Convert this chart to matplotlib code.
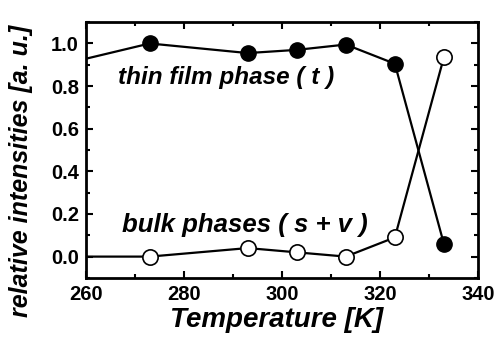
import matplotlib
matplotlib.use('Agg')
import matplotlib.pyplot as plt
from matplotlib.ticker import MultipleLocator

# data (first point lies left of the axis, clipped)
temp = [253, 273, 293, 303, 313, 323, 333]
thin_film = [0.89, 1.0, 0.955, 0.97, 0.995, 0.905, 0.06]
bulk = [0.0, 0.0, 0.04, 0.02, 0.0, 0.09, 0.935]

plt.rcParams['font.family'] = ['Liberation Sans', 'DejaVu Sans']
plt.rcParams['font.weight'] = 'bold'

fig = plt.figure(figsize=(4.94, 3.41), dpi=100)
ax = fig.add_axes([0.174, 0.185, 0.794, 0.75])

ax.plot(temp, thin_film, '-o', color='black', lw=1.6,
        markersize=11, markerfacecolor='black', markeredgecolor='black')
ax.plot(temp, bulk, '-o', color='black', lw=1.6,
        markersize=11, markerfacecolor='white', markeredgecolor='black',
        markeredgewidth=1.2)

ax.set_xlim(260, 340)
ax.set_ylim(-0.1, 1.1)
ax.xaxis.set_major_locator(MultipleLocator(20))
ax.xaxis.set_minor_locator(MultipleLocator(10))
ax.yaxis.set_major_locator(MultipleLocator(0.2))
ax.yaxis.set_minor_locator(MultipleLocator(0.1))
ax.yaxis.set_major_formatter(plt.FormatStrFormatter('%.1f'))

ax.tick_params(which='both', direction='in', top=True, right=True, width=1.5)
ax.tick_params(which='major', length=5, labelsize=14.5, pad=5)
ax.tick_params(which='minor', length=3)
for s in ax.spines.values():
    s.set_linewidth(2)

ax.set_xlabel('Temperature [K]', fontsize=20, fontstyle='italic', fontweight='bold')
ax.xaxis.set_label_coords(0.485, -0.115)
ax.set_ylabel('relative intensities [a. u.]', fontsize=18, fontstyle='italic', fontweight='bold')
ax.yaxis.set_label_coords(-0.135, 0.42)

ax.text(266.5, 0.81, 'thin film phase ( t )', fontsize=17.5, fontstyle='italic', fontweight='bold')
ax.text(267.3, 0.116, 'bulk phases ( s + v )', fontsize=18.5, fontstyle='italic', fontweight='bold')

fig.savefig('out.png', dpi=100)
